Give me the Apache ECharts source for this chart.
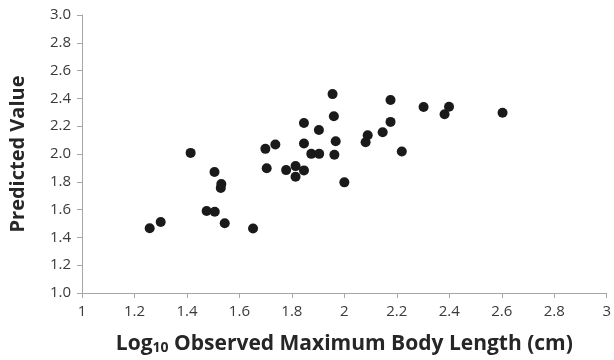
<!DOCTYPE html>
<html>
<head>
<meta charset="utf-8">
<script src="https://cdn.jsdelivr.net/npm/echarts@6/dist/echarts.min.js"></script>
<style>html,body{margin:0;padding:0;background:#fff}#c{width:614px;height:360px}</style>
</head>
<body>
<div id="c"></div>
<script>
var xValues = [1.258,1.300,1.414,1.475,1.506,1.505,1.531,1.529,1.544,1.652,1.699,1.704,1.737,1.778,1.814,1.814,1.846,1.846,1.846,1.874,1.904,1.903,1.955,1.960,1.967,1.962,2.000,2.081,2.089,2.146,2.176,2.176,2.219,2.302,2.382,2.399,2.603];
var yValues = [1.466,1.511,2.008,1.590,1.585,1.870,1.784,1.755,1.502,1.464,2.037,1.898,2.068,1.884,1.913,1.836,2.223,2.075,1.882,2.001,2.001,2.173,2.431,2.271,2.092,1.994,1.796,2.085,2.135,2.157,2.388,2.231,2.018,2.338,2.286,2.340,2.297];
var xTitle = 'Log{sub|10} Observed Maximum Body Length (cm)';
var yTitle = 'Predicted Value';

var points = xValues.map(function(x, i){ return [x, yValues[i]]; });
var font = 'Open Sans';
var axisColor = '#a6a6a6';
var chart = echarts.init(document.getElementById('c'), null, {renderer:'canvas'});
chart.setOption({
  animation: false,
  backgroundColor: '#fff',
  grid: {left: 79, right: 6, top: 15, bottom: 66, containLabel: false},
  xAxis: {
    type: 'value', min: 1, max: 3, interval: 0.2,
    splitLine: {show: false},
    axisLine: {show: true, onZero: false, lineStyle: {color: axisColor, width: 1}},
    axisTick: {show: true, length: 5, lineStyle: {color: axisColor}},
    axisLabel: {color: '#3a3a3a', fontFamily: font, fontSize: 15, margin: 11,
      formatter: function(v){ return String(Math.round(v*10)/10); }},
    name: xTitle, nameLocation: 'middle', nameGap: 40,
    nameTextStyle: {fontFamily: font, fontWeight: 'bold', fontSize: 21, color: '#262626',
      rich: {sub: {fontFamily: font, fontWeight: 'bold', fontSize: 14, color: '#262626', verticalAlign: 'bottom', padding: [8,0,0,0]}}}
  },
  yAxis: {
    type: 'value', min: 1, max: 3, interval: 0.2,
    splitLine: {show: false},
    axisLine: {show: true, onZero: false, lineStyle: {color: axisColor, width: 1}},
    axisTick: {show: true, length: 5, lineStyle: {color: axisColor}},
    axisLabel: {color: '#3a3a3a', fontFamily: font, fontSize: 15, margin: 11,
      formatter: function(v){ return v.toFixed(1); }},
    name: yTitle, nameLocation: 'middle', nameGap: 54,
    nameTextStyle: {fontFamily: font, fontWeight: 'bold', fontSize: 20, color: '#262626'}
  },
  series: [{
    type: 'scatter', data: points, symbol: 'circle', symbolSize: 10,
    itemStyle: {color: '#1a1a1a', opacity: 1}
  }]
});
</script>
</body>
</html>
